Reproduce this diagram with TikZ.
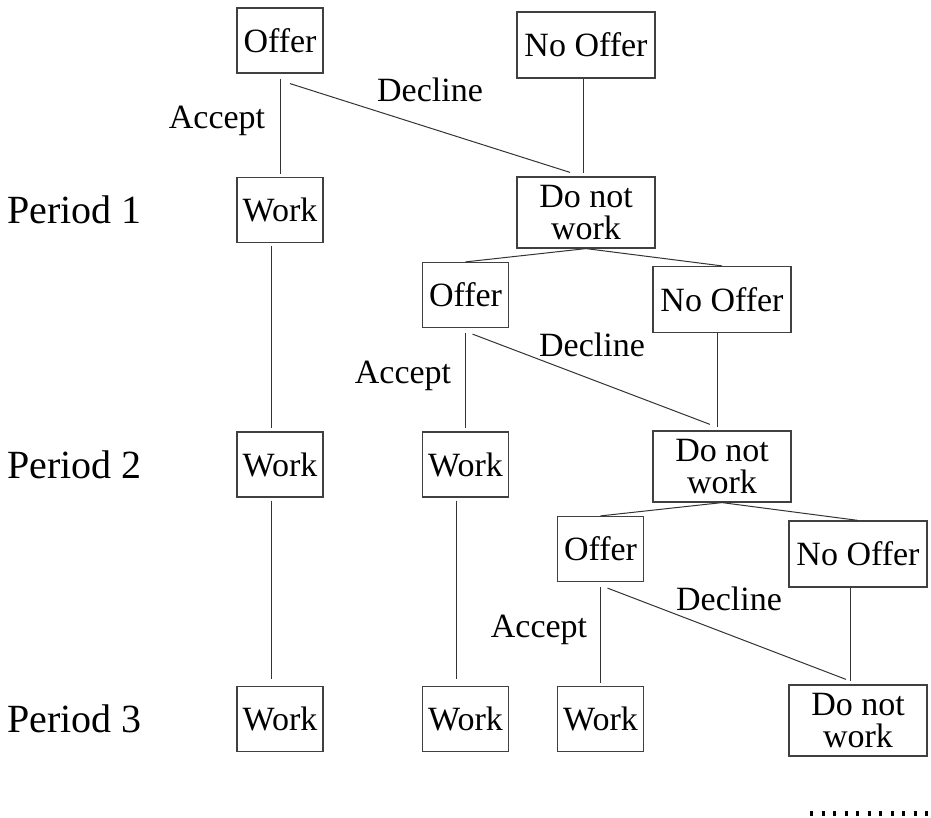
\documentclass[tikz,border=0pt]{standalone}
\usepackage{fontspec}
\setmainfont{Liberation Serif}

\begin{document}
\begin{tikzpicture}[x=0.5pt,y=-0.5pt,
    box/.style={draw=black!75, line width=0.6pt, minimum width=43pt, minimum height=32.5pt,
        inner sep=0pt, align=center, font=\fontsize{17}{16}\selectfont},
    widebox/.style={box, minimum width=69pt, minimum height=33pt},
    dnwbox/.style={box, minimum width=69pt, minimum height=35.5pt},
    lbl/.style={anchor=base, inner sep=0pt, font=\fontsize{17}{16}\selectfont},
    period/.style={anchor=west, inner sep=0pt, font=\fontsize{20}{22}\selectfont},
    branch/.style={draw=black!80, line width=0.5pt}]
        \useasboundingbox (0,0) rectangle (931,818);
        % period labels
        \node [period] (p1) at (7, 210) {Period 1};
        \node [period] (p2) at (7, 464.5) {Period 2};
        \node [period] (p3) at (7, 719) {Period 3};
        % first period
        \node [box] (offerA) at (280, 40.5) {Offer};
        \node [widebox] (noofferA) at (586, 45) {No Offer};
        \node [box] (workA) at (280, 210) {Work};
        \node [dnwbox] (dnwA) at (586, 212.5) {Do not\\ work};
        % second period
        \node [box] (offerB) at (465.5, 295) {Offer};
        \node [widebox] (noofferB) at (722, 299.5) {No Offer};
        \node [box] (workB1) at (280, 464.5) {Work};
        \node [box] (workB2) at (465.5, 464.5) {Work};
        \node [dnwbox] (dnwB) at (722, 466.5) {Do not\\ work};
        % third period
        \node [box] (offerC) at (600.5, 549) {Offer};
        \node [widebox] (noofferC) at (858, 554) {No Offer};
        \node [box] (workC1) at (280, 719) {Work};
        \node [box] (workC2) at (465.5, 719) {Work};
        \node [box] (workC3) at (600.5, 719) {Work};
        \node [dnwbox] (dnwC) at (858, 720.5) {Do not\\ work};
        % choices
        \node [lbl] (acceptA) at (217, 129) {Accept};
        \node [lbl] (declineA) at (430, 102) {Decline};
        \node [lbl] (acceptB) at (403, 383) {Accept};
        \node [lbl] (declineB) at (592, 356) {Decline};
        \node [lbl] (acceptC) at (539, 637) {Accept};
        \node [lbl] (declineC) at (729, 610) {Decline};
        % branches
        \draw [branch, shorten <=2.5pt, shorten >=1.5pt] (offerA.south) -- (workA.north);
        \draw [branch] ([shift={(5pt,-5pt)}]offerA.south) -- ([shift={(-8pt,2pt)}]dnwA.north);
        \draw [branch, shorten >=1.5pt] ([xshift=-1.5pt]noofferA.south) -- ([xshift=-1.5pt]dnwA.north);
        \draw [branch] (dnwA.south) -- (offerB.north);
        \draw [branch] (dnwA.south) -- (noofferB.north);
        \draw [branch, shorten <=2.5pt, shorten >=1.5pt] (offerB.south) -- (workB2.north);
        \draw [branch] ([shift={(3.5pt,-3pt)}]offerB.south) -- ([shift={(-6pt,3pt)}]dnwB.north);
        \draw [branch, shorten >=1.5pt] ([xshift=-2.5pt]noofferB.south) -- ([xshift=-2.5pt]dnwB.north);
        \draw [branch] (dnwB.south) -- (offerC.north);
        \draw [branch] (dnwB.south) -- (noofferC.north);
        \draw [branch, shorten <=2.5pt, shorten >=1.5pt] (offerC.south) -- (workC3.north);
        \draw [branch] ([shift={(3.5pt,-3pt)}]offerC.south) -- ([shift={(-6pt,2.5pt)}]dnwC.north);
        \draw [branch, shorten >=1.5pt] ([xshift=-4pt]noofferC.south) -- ([xshift=-4pt]dnwC.north);
        % keep working
        \draw [branch, shorten <=1.5pt, shorten >=1.5pt] ([xshift=-4.5pt]workA.south) -- ([xshift=-4.5pt]workB1.north);
        \draw [branch, shorten <=1.5pt, shorten >=3.5pt] ([xshift=-4.5pt]workB1.south) -- ([xshift=-4.5pt]workC1.north);
        \draw [branch, shorten <=1.5pt, shorten >=3.5pt] ([xshift=-4.5pt]workB2.south) -- ([xshift=-4.5pt]workC2.north);
        % and so on
        \coordinate (etcL) at (810, 813);
        \coordinate (etcR) at (929, 813);
        \draw [line width=2.5pt, dash pattern=on 1.5pt off 4.25pt] (etcL) -- (etcR);
    \end{tikzpicture}
\end{document}
